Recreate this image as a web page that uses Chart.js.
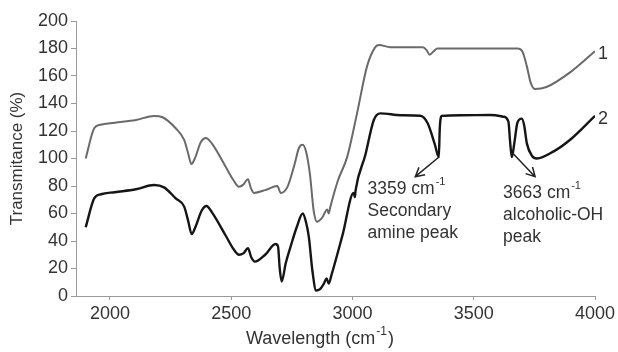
<!DOCTYPE html>
<html>
<head>
<meta charset="utf-8">
<script src="https://cdn.jsdelivr.net/npm/chart.js@4"></script>
<style>
    html, body { margin: 0; padding: 0; background: #fff; }
    #wrap { width: 618px; height: 352px; }
</style>
</head>
<body>
<div id="wrap"><canvas id="irChart" width="618" height="352"></canvas></div>
<script>
// Curve 1 (upper, gray)
const wave1 = [1900, 1935, 1960, 2020, 2107, 2182, 2217, 2271, 2306, 2322, 2336, 2350, 2375, 2395, 2420, 2477,
    2510, 2532, 2550, 2569, 2580, 2594, 2640, 2690, 2704, 2731, 2760, 2780, 2795, 2810, 2825, 2840, 2854,
    2875, 2896, 2902, 2909, 2940, 2978, 3019, 3060, 3094, 3110, 3156, 3290, 3305, 3318, 3335, 3350, 3680,
    3700, 3719, 3735, 3753, 3800, 3900, 4000];
const trans1 = [100, 122, 124.5, 126, 128, 131, 130, 122, 113.5, 104, 96, 100, 112, 115, 111, 94,
    84, 79.5, 81, 85, 79, 75, 77, 80, 75, 79, 95, 108, 110, 104, 88, 62, 54,
    57, 63, 60, 65, 84, 101, 133, 167, 181, 182.5, 181, 181, 179, 175.5, 178, 180, 180,
    178, 167, 155, 150.5, 152, 163, 178];

// Curve 2 (lower, black)
const wave2 = [1900, 1935, 1963, 2020, 2107, 2182, 2223, 2271, 2306, 2322, 2337, 2352, 2378, 2398, 2420, 2477,
    2510, 2532, 2550, 2569, 2583, 2598, 2640, 2683, 2693, 2700, 2708, 2725, 2745, 2770, 2795, 2808, 2820,
    2835, 2850, 2866, 2882, 2893, 2902, 2913, 2960, 3005, 3010, 3013, 3053, 3088, 3115, 3200, 3280, 3310,
    3340, 3356, 3360, 3368, 3450, 3568, 3623, 3643, 3650, 3657, 3668, 3680, 3698, 3708, 3719, 3740, 3760,
    3828, 3900, 4000];
const trans2 = [50, 71, 74, 75.5, 77.6, 80.7, 79, 71, 65, 55, 45, 50, 62, 65.5, 61, 44,
    34, 30, 31, 34.7, 28, 25, 30, 37.8, 36, 20, 10.5, 24, 36, 50, 60, 54, 43,
    18, 4, 5, 9, 12.8, 9, 15, 45, 75, 72, 77, 102.5, 128, 132.8, 131.5, 131.1, 125.6,
    110, 101, 122, 131, 131.5, 131.6, 130.4, 126.8, 112, 101, 112, 126, 129, 124, 111, 102, 100,
    105, 114, 131];

const curveNames = ['1', '2'];
const xTicks = [2000, 2500, 3000, 3500, 4000];
const yTicks = [0, 20, 40, 60, 80, 100, 120, 140, 160, 180, 200];

const FONT = '"Liberation Sans", Arial, sans-serif';
const TEXT = '#333';

function toPoints(xs, ys) {
    return xs.map((x, i) => ({ x: x, y: ys[i] }));
}

// text with a raised "-1" after "cm"
function drawSup(ctx, parts, x, y, align, size) {
    const big = size + 'px ' + FONT, small = Math.round(size * 0.65) + 'px ' + FONT;
    ctx.font = big;
    const w0 = ctx.measureText(parts[0]).width;
    ctx.font = small;
    const w1 = ctx.measureText('-1').width;
    ctx.font = big;
    const w2 = parts[1] ? ctx.measureText(parts[1]).width : 0;
    let left = x;
    if (align === 'center') left = x - (w0 + w1 + w2) / 2;
    ctx.textAlign = 'left';
    ctx.textBaseline = 'middle';
    ctx.fillText(parts[0], left, y);
    ctx.font = small;
    ctx.fillText('-1', left + w0 + 1, y - 7);
    ctx.font = big;
    if (parts[1]) ctx.fillText(parts[1], left + w0 + w1 + 2, y);
}

function arrow(ctx, x1, y1, x2, y2) {
    const a = Math.atan2(y2 - y1, x2 - x1);
    ctx.beginPath();
    ctx.moveTo(x1, y1);
    ctx.lineTo(x2, y2);
    ctx.moveTo(x2 - 10 * Math.cos(a - 0.5), y2 - 10 * Math.sin(a - 0.5));
    ctx.lineTo(x2, y2);
    ctx.lineTo(x2 - 10 * Math.cos(a + 0.5), y2 - 10 * Math.sin(a + 0.5));
    ctx.stroke();
}

const notes = {
    id: 'notes',
    afterDraw(chart) {
        const ctx = chart.ctx;
        const xs = chart.scales.x, ys = chart.scales.y;
        ctx.save();
        ctx.fillStyle = TEXT;
        ctx.strokeStyle = '#222';
        ctx.lineWidth = 1.5;

        // curve numbers at the right end
        chart.data.datasets.forEach((ds, i) => {
            const last = chart.getDatasetMeta(i).data.slice(-1)[0];
            ctx.font = '18px ' + FONT;
            ctx.textAlign = 'left';
            ctx.textBaseline = 'middle';
            ctx.fillText(curveNames[i], last.x + 3, last.y + 3);
        });

        // peak arrows
        arrow(ctx, xs.getPixelForValue(3358), ys.getPixelForValue(101.3), xs.getPixelForValue(3259), ys.getPixelForValue(86.8));
        arrow(ctx, xs.getPixelForValue(3660), ys.getPixelForValue(104), xs.getPixelForValue(3753), ys.getPixelForValue(86.8));

        // peak labels
        let lx = xs.getPixelForValue(3062), ly = ys.getPixelForValue(77.8);
        drawSup(ctx, ['3359 cm', ''], lx, ly, 'left', 17.5);
        ctx.fillText('Secondary', lx, ly + 22);
        ctx.fillText('amine peak', lx, ly + 44);

        lx = xs.getPixelForValue(3621); ly = ys.getPixelForValue(75.1);
        drawSup(ctx, ['3663 cm', ''], lx, ly, 'left', 17.5);
        ctx.fillText('alcoholic-OH', lx, ly + 22);
        ctx.fillText('peak', lx, ly + 44);

        // x axis title
        drawSup(ctx, ['Wavelength (cm', ')'], 319, 339, 'center', 18);
        ctx.restore();
    }
};

new Chart(document.getElementById('irChart'), {
    type: 'line',
    data: {
        datasets: [
            {
                data: toPoints(wave1, trans1),
                borderColor: '#6a6a6a',
                borderWidth: 2,
                pointRadius: 0,
                cubicInterpolationMode: 'monotone'
            },
            {
                data: toPoints(wave2, trans2),
                borderColor: '#151515',
                borderWidth: 2.4,
                pointRadius: 0,
                cubicInterpolationMode: 'monotone'
            }
        ]
    },
    options: {
        responsive: false,
        animation: false,
        layout: { padding: { left: 0, top: 21, right: 23, bottom: 0 } },
        plugins: { legend: { display: false }, tooltip: { enabled: false } },
        scales: {
            x: {
                type: 'linear',
                min: 1860,
                max: 4000,
                afterBuildTicks: s => { s.ticks = xTicks.map(v => ({ value: v })); },
                afterFit: s => { s.height = 56; s.paddingLeft = 0; s.paddingRight = 0; },
                border: { display: true, color: '#9a9a9a', width: 1 },
                grid: { display: true, drawOnChartArea: false, drawTicks: true, tickLength: 4, color: '#9a9a9a' },
                ticks: { color: TEXT, font: { family: FONT, size: 18 }, padding: 3, maxRotation: 0, callback: v => String(v) }
            },
            y: {
                min: 0,
                max: 200,
                afterBuildTicks: s => { s.ticks = yTicks.map(v => ({ value: v })); },
                afterFit: s => { s.width = 76; s.paddingTop = 0; s.paddingBottom = 0; },
                border: { display: true, color: '#9a9a9a', width: 1 },
                grid: { display: true, drawOnChartArea: false, drawTicks: true, tickLength: 5, color: '#9a9a9a' },
                ticks: { color: TEXT, font: { family: FONT, size: 18 }, padding: 3, callback: v => String(v) },
                title: {
                    display: true,
                    text: 'Transmitance (%)',
                    color: TEXT,
                    font: { family: FONT, size: 17 },
                    padding: { top: 7, bottom: 0 }
                }
            }
        }
    },
    plugins: [notes]
});
</script>
</body>
</html>
